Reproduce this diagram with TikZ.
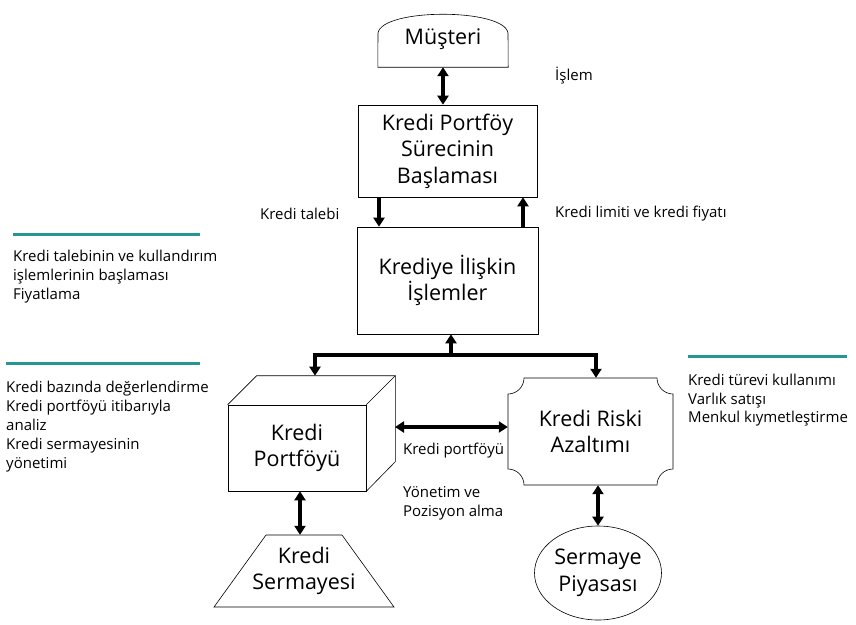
\documentclass[tikz,border=0pt]{standalone}
\usepackage{fontspec}
\setmainfont{Open Sans}
\usetikzlibrary{arrows.meta,shapes.geometric,calc}
\definecolor{tealline}{RGB}{38,150,145}
\begin{document}
\begin{tikzpicture}[x=1pt,y=-1pt,
  box/.style={draw, line width=0.6pt, font=\fontsize{21.5}{26.5}\selectfont, align=center, inner sep=0pt},
  shapetext/.style={inner sep=0pt, font=\fontsize{21.5}{26.5}\selectfont, align=center},
  outline/.style={draw, line width=0.6pt},
  lbl/.style={font=\fontsize{15}{19}\selectfont, align=left, inner sep=0pt},
  tl/.style={draw=tealline, line width=3pt},
  arr/.style={line width=3.5pt, -{Triangle[length=9pt,width=11pt]}},
  darr/.style={line width=3.5pt, {Triangle[length=9pt,width=11pt]}-{Triangle[length=9pt,width=11pt]}}
]
\useasboundingbox (0,0) rectangle (856,624);

% Musteri (dome)
\node[shapetext, minimum width=130pt, minimum height=55pt] (mu) at (443,39.5) {Müşteri};
\draw[outline] (mu.south west) -- (mu.south east) -- (508,33) .. controls (504,8) and (382,8) .. (378,33) -- cycle;

% Kredi Portfoy Surecinin Baslamasi
\node[box, minimum width=179pt, minimum height=92pt] (kp) at (447.5,151) {Kredi Portföy\\Sürecinin\\Başlaması};

% Krediye Iliskin Islemler
\node[box, minimum width=181pt, minimum height=107pt] (ki) at (447.5,280.5) {Krediye İlişkin\\İşlemler};

% Kredi Portfoyu (cube)
\node[box, minimum width=138pt, minimum height=86pt] (po) at (297,448) {Kredi\\Portföyü};
\coordinate (pb) at ($(po.north east)+(29,-29)$);
\draw[outline] (po.north west) -- ++(29,-29) -- (pb) -- ++(0,86) -- (po.south east);
\draw[outline] (po.north east) -- (pb);

% Kredi Riski Azaltimi (concave corners)
\node[shapetext, minimum width=165pt, minimum height=107pt] (rk) at (590.5,431.5) {Kredi Riski\\Azaltımı};
\draw[outline] (524,378) -- (657,378) .. controls (657,386.8) and (664.2,394) .. (673,394)
  -- (673,469) .. controls (664.2,469) and (657,476.2) .. (657,485)
  -- (524,485) .. controls (524,476.2) and (516.8,469) .. (508,469)
  -- (508,394) .. controls (516.8,394) and (524,386.8) .. (524,378) -- cycle;

% Kredi Sermayesi (trapezoid)
\node[shapetext, minimum width=180pt, minimum height=72pt] (se) at (304,571) {Kredi\\Sermayesi};
\draw[outline] (266,535) -- (342,535) -- (394,607) -- (214,607) -- cycle;

% Sermaye Piyasasi (ellipse)
\node[ellipse, box, minimum width=127pt, minimum height=94pt] (py) at (598,573) {Sermaye\\Piyasası};

% connectors
\draw[darr] (mu.south) -- (mu.south |- kp.north);
\coordinate (kdl) at (379,0);
\coordinate (kdr) at (523,0);
\draw[arr] (kp.south -| kdl) -- (ki.north -| kdl);
\draw[arr] (ki.north -| kdr) -- (kp.south -| kdr);

\coordinate (bm) at (451,355);
\coordinate (bl) at (315,355);
\coordinate (br) at (596,355);
\draw[arr] (bm) -- (bm |- ki.south);
\draw[arr, line join=miter] (bm) -- (bl) -- (bl |- pb);
\draw[arr, line join=miter] (bm) -- (br) -- (br |- rk.north);

\coordinate (pe) at (395,427);
\draw[darr] (pe) -- (pe -| rk.west);
\draw[darr] ([xshift=3pt]po.south) -- ([xshift=3pt]po.south |- se.north);
\draw[darr] (rk.south -| py.north) -- (py.north);

% labels
\node[lbl, anchor=west] (l1) at (555,76) {İşlem};
\node[lbl, anchor=west] (l2) at (260,214) {Kredi talebi};
\node[lbl, anchor=west] (l3) at (555,214) {Kredi limiti ve kredi fiyatı};
\node[lbl, anchor=west] (l4) at (403,451) {Kredi portföyü};
\node[lbl, anchor=west] (l5) at (403,503.5) {Yönetim ve\\Pozisyon alma};

% side notes
\draw[tl] (13,234) -- (200,234);
\node[lbl, anchor=west] (n1) at (13,277) {Kredi talebinin ve kullandırım\\işlemlerinin başlaması\\Fiyatlama};
\draw[tl] (6,363) -- (200,363);
\node[lbl, anchor=west] (n2) at (6,426.5) {Kredi bazında değerlendirme\\Kredi portföyü itibarıyla\\analiz\\Kredi sermayesinin\\yönetimi};
\draw[tl] (688,356) -- (847,356);
\node[lbl, anchor=west, font=\fontsize{15}{18.5}\selectfont] (n3) at (688,400.5) {Kredi türevi kullanımı\\Varlık satışı\\Menkul kıymetleştirme};
\end{tikzpicture}
\end{document}
